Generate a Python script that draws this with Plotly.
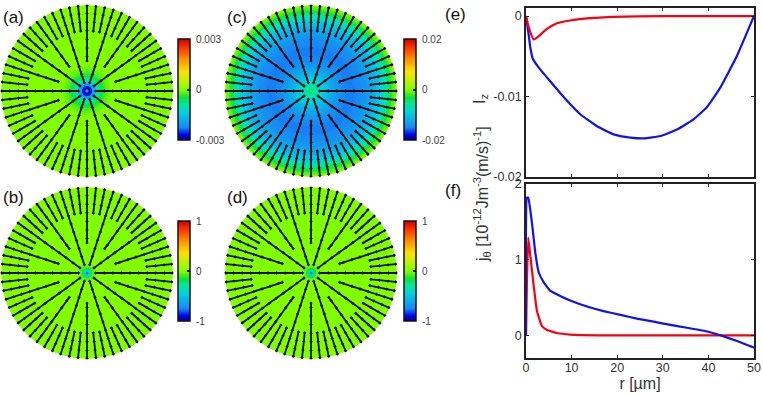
import plotly.graph_objects as go

# radial profiles, r in um (panels e and f)
iz_red_r = [0, 0.6, 1.7, 2.8, 4.6, 6.8, 9.7, 13.4, 19, 30, 50]
iz_red = [0, -0.0014, -0.0029, -0.0025, -0.0016, -0.0009, -0.00055, -0.0003, -0.0001, -0.00002, 0]
iz_blue_r = [0, 0.6, 1, 1.5, 2.8, 5.3, 8.3, 11.9, 15.6, 19.2, 22.9, 25.8, 29.5, 33.1, 36.8, 39.7, 42.6, 46.3, 48.5, 50]
iz_blue = [0, -0.0024, -0.0041, -0.0053, -0.0064, -0.0081, -0.0101, -0.0122, -0.0137, -0.0147, -0.0151, -0.0152,
           -0.0149, -0.0141, -0.0128, -0.0113, -0.0089, -0.0049, -0.002, 0]
j_red_r = [0, 0.2, 0.5, 0.95, 1.7, 2.4, 3.5, 4.6, 6.8, 9.7, 17, 50]
j_red = [0, 0.7, 1.29, 1.05, 0.65, 0.32, 0.12, 0.07, 0.03, 0.01, 0, 0]
j_blue_r = [0, 0.2, 0.5, 1.3, 2, 2.8, 3.9, 5.3, 7.5, 9.7, 13.4, 17, 20.7, 24.3, 28, 31.7, 35.3, 39, 42.6, 46.3, 50]
j_blue = [0, 1.82, 1.82, 1.49, 1.11, 0.83, 0.70, 0.59, 0.52, 0.46, 0.38, 0.32, 0.27, 0.22, 0.18, 0.137, 0.10, 0.06,
          0, -0.075, -0.163]

# colour rings of the discs, one value per ring
ring_edges = [0, 0.5, 1, 1.5, 2] + list(range(3, 51))
ring_a = [-0.0007, -0.0022, -0.0029, -0.0029, -0.0026, -0.0021, -0.0016, -0.0012, -0.0009, -0.0007, -0.0005, -0.0004,
          -0.0003, -0.0002, -0.00015, -0.0001] + [0] * 36
ring_c = [-0.0012, -0.0035, -0.0048, -0.0056, -0.0062, -0.0068, -0.0075, -0.0082, -0.0089, -0.0096, -0.0102, -0.0108,
          -0.0114, -0.0120, -0.0125, -0.0130, -0.0134, -0.0138, -0.0142, -0.0145, -0.0148, -0.0150, -0.0151, -0.0152,
          -0.0152, -0.0152, -0.0152, -0.0151, -0.0150, -0.0149, -0.0147, -0.0145, -0.0142, -0.0139, -0.0135, -0.0131,
          -0.0127, -0.0122, -0.0117, -0.0112, -0.0105, -0.0098, -0.0091, -0.0083, -0.0072, -0.0062, -0.0052, -0.0042,
          -0.0030, -0.0018, -0.0009, -0.0003]
ring_b = [-0.85, -0.7, -0.45, -0.3, -0.18, -0.08, -0.03, -0.01] + [0] * 44
ring_d = [-0.8, -0.65, -0.4, -0.25, -0.15, -0.06, -0.02, -0.01] + [0] * 44

# arrow spokes, angle in degrees and radii in um
full_angles = [0, 36, 72, 108, 144, 180, 216, 252, 288, 324]
mid_angles = [18, 54, 90, 126, 162, 198, 234, 270, 306, 342]
outer_angles = [a for a in range(0, 360, 6) if a % 18 != 0]
full_r = [5, 10, 15, 20, 25, 30, 35, 40, 45, 49.5]
mid_r = [17.5, 20, 25, 30, 35, 40, 45, 49.5]
outer_r = [35, 40, 45, 49.5]

jet = [[0, '#000090'], [0.05, '#0000f0'], [0.125, '#1888f5'], [0.27, '#00d0e0'], [0.35, '#00e8a0'],
       [0.42, '#10e040'], [0.49, '#78fa00'], [0.5, '#80ff00'], [0.6, '#c8f000'], [0.68, '#ffe000'], [0.8, '#ff9000'],
       [0.92, '#ff3000'], [1, '#c80000']]

W = 763
H = 395


def px_x(x):
    return x / W


def px_y(y):
    return 1 - y / H


def add_disc(fig, name, rings, cmax, ticks, ticktext, box, cbar):
    base = ring_edges[:-1]
    # each ring runs a little under the next one so no seam shows between them
    width = [ring_edges[i + 1] - ring_edges[i] + 0.4 for i in range(len(base))]
    width[-1] = ring_edges[-1] - ring_edges[-2]
    fig.add_trace(go.Barpolar(
        subplot=name, r=width, base=base, theta=[0] * len(base), width=[360] * len(base),
        marker=dict(color=rings, colorscale=jet, cmin=-cmax, cmax=cmax, line=dict(width=0),
                    colorbar=dict(x=px_x(cbar[0]), xanchor='left', xpad=0, y=px_y((cbar[1] + cbar[2]) / 2),
                                  yanchor='middle', ypad=0, thickness=cbar[3], thicknessmode='pixels',
                                  lenmode='pixels', len=cbar[2] - cbar[1], outlinewidth=1.5, outlinecolor='#111',
                                  tickmode='array', tickvals=ticks, ticktext=ticktext, ticks='inside', ticklen=3,
                                  tickcolor='#000', tickwidth=1.5,
                                  tickfont=dict(family='Liberation Sans', size=10, color='#444'))),
        showlegend=False, hoverinfo='skip'))
    sr = []
    st = []
    for angles, radii in [(full_angles, full_r), (mid_angles, mid_r), (outer_angles, outer_r)]:
        for a in angles:
            sr += radii + [None]
            st += [a] * len(radii) + [None]
    fig.add_trace(go.Scatterpolar(subplot=name, r=sr, theta=st, mode='lines+markers',
                                  line=dict(color='#0a0a0a', width=1.8),
                                  marker=dict(color='#0a0a0a', size=2.6, symbol='diamond'),
                                  connectgaps=False, showlegend=False, hoverinfo='skip'))
    polar = dict(domain=dict(x=[px_x(box[0]), px_x(box[0] + 172)], y=[px_y(box[1] + 172), px_y(box[1])]),
                 bgcolor='rgba(0,0,0,0)', barmode='overlay',
                 radialaxis=dict(visible=False, range=[0, 50]),
                 angularaxis=dict(visible=False, direction='counterclockwise', rotation=0))
    fig.update_layout({name: polar})


NB = '\u00a0'
fig = go.Figure()
add_disc(fig, 'polar', ring_a, 0.003, [-0.003, 0, 0.003], [NB + '-0.003', NB + '0', NB + '0.003'], (1, 5), (178, 39, 140, 12))
add_disc(fig, 'polar2', ring_c, 0.02, [-0.02, 0, 0.02], [NB + '-0.02', NB + '0', NB + '0.02'], (225, 5), (404, 39, 140, 12))
add_disc(fig, 'polar3', ring_b, 1, [-1, 0, 1], [NB + '-1', NB + '0', NB + '1'], (1, 187), (178, 221, 321, 12))
add_disc(fig, 'polar4', ring_d, 1, [-1, 0, 1], [NB + '-1', NB + '0', NB + '1'], (225, 187), (404, 221, 321, 12))

fig.add_trace(go.Scatter(x=iz_blue_r, y=iz_blue, xaxis='x', yaxis='y', mode='lines',
                         line=dict(color='#1010f0', width=2.2, shape='spline', smoothing=0.4), showlegend=False))
fig.add_trace(go.Scatter(x=iz_red_r, y=iz_red, xaxis='x', yaxis='y', mode='lines',
                         line=dict(color='#f80010', width=2.2, shape='spline', smoothing=0.4), showlegend=False))
fig.add_trace(go.Scatter(x=j_red_r, y=j_red, xaxis='x2', yaxis='y2', mode='lines',
                         line=dict(color='#f80010', width=2.2, shape='spline', smoothing=0.3), showlegend=False))
fig.add_trace(go.Scatter(x=j_blue_r, y=j_blue, xaxis='x2', yaxis='y2', mode='lines',
                         line=dict(color='#1010f0', width=2.2, shape='spline', smoothing=0.3), showlegend=False))

axis_style = dict(showline=True, linecolor='#222', linewidth=1.5, mirror='ticks', ticks='inside', ticklen=3,
                  tickcolor='#222', tickwidth=1, showgrid=False, zeroline=False,
                  tickfont=dict(family='Liberation Sans', size=12.5, color='#333'))
fig.update_layout(
    width=W, height=H, margin=dict(l=0, r=0, t=0, b=0, autoexpand=False), paper_bgcolor='white', plot_bgcolor='white',
    xaxis=dict(domain=[px_x(526), px_x(754)], range=[0, 50], anchor='y', tickvals=[0, 10, 20, 30, 40, 50],
               showticklabels=False, **axis_style),
    yaxis=dict(domain=[px_y(177), px_y(8)], range=[-0.02, 0.001], anchor='x', tickvals=[-0.02, -0.01, 0],
               ticktext=['-0.02', '-0.01', '0'], **axis_style),
    xaxis2=dict(domain=[px_x(526), px_x(754)], range=[0, 50], anchor='y2', tickvals=[0, 10, 20, 30, 40, 50],
                ticklabelstandoff=-3,
                title=dict(text='r [µm]', font=dict(family='Liberation Sans', size=16, color='#333'), standoff=3),
                **axis_style),
    yaxis2=dict(domain=[px_y(358), px_y(184)], range=[-0.3, 2], anchor='x2', tickvals=[0, 1, 2], **axis_style),
)

labels = [('(a)', 1, 17), ('(b)', 1, 197), ('(c)', 225, 17), ('(d)', 225, 197), ('(e)', 443, 15), ('(f)', 443, 190)]
for text, x, y in labels:
    fig.add_annotation(text=text, x=px_x(x), y=px_y(y), xref='paper', yref='paper', xanchor='left', yanchor='middle',
                       showarrow=False, font=dict(family='Liberation Sans', size=17, color='#111'))
fig.add_annotation(text='I<sub>z</sub>', x=px_x(480), y=px_y(92), xref='paper', yref='paper', textangle=-90,
                   showarrow=False, font=dict(family='Liberation Sans', size=16, color='#333'))
fig.add_annotation(text='j<sub>θ</sub> [10<sup>-12</sup>Jm<sup>-3</sup>(m/s)<sup>-1</sup>]', x=px_x(482), y=px_y(264),
                   xref='paper', yref='paper', textangle=-90, showarrow=False,
                   font=dict(family='Liberation Sans', size=16, color='#333'))

# the page's default body margin would push the figure out of the window
fig.write_html("out.html", config=dict(displayModeBar=False), post_script="document.body.style.margin='0';")
